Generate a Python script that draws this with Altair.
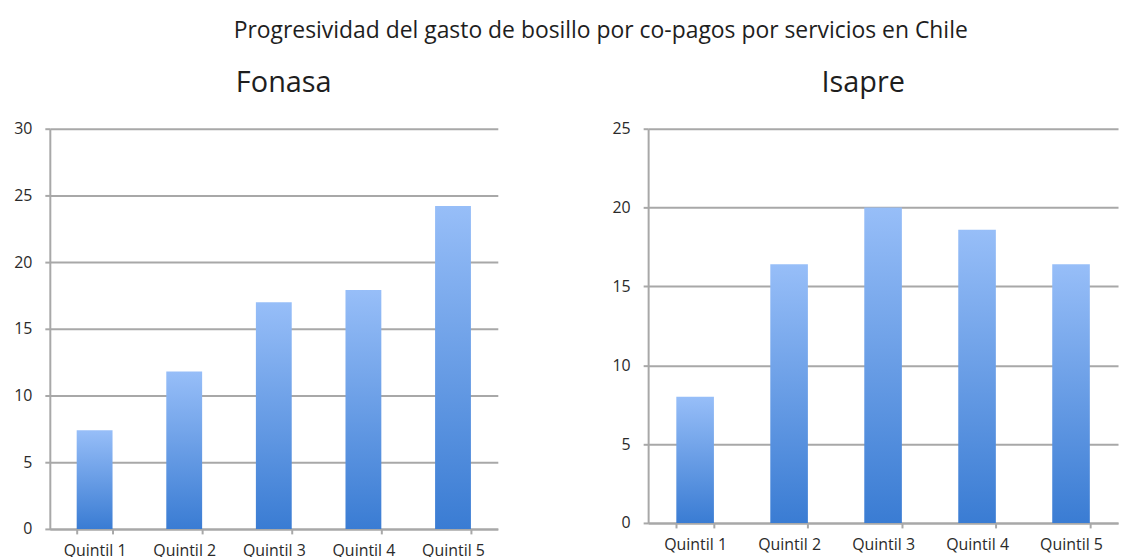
import altair as alt
import pandas as pd

quintiles = ["Quintil 1", "Quintil 2", "Quintil 3", "Quintil 4", "Quintil 5"]
fonasa = [7.4, 11.8, 17.0, 17.9, 24.2]
isapre = [8.0, 16.4, 20.0, 18.6, 16.4]

main_title = "Progresividad del gasto de bosillo por co-pagos por servicios en Chile"
FONT = "Open Sans"
GRID = "#A8A8A8"

grad = alt.Gradient(
    gradient="linear",
    stops=[alt.GradientStop(color="#3A7CD3", offset=0),
           alt.GradientStop(color="#97BEF8", offset=1)],
    x1=1, x2=1, y1=1, y2=0,
)


def panel(values, name, ymax, width, height, dx):
    df = pd.DataFrame({"q": quintiles, "v": values})
    return alt.Chart(df).mark_bar(color=grad).encode(
        x=alt.X("q:N", sort=quintiles,
                scale=alt.Scale(paddingInner=0.6, paddingOuter=0.3),
                axis=alt.Axis(title=None, labelAngle=0, tickBand="extent",
                              grid=False, tickSize=5, labelPadding=9)),
        y=alt.Y("v:Q", scale=alt.Scale(domain=[0, ymax], nice=False),
                axis=alt.Axis(title=None, values=list(range(0, ymax + 1, 5)),
                              grid=True, tickSize=5, labelPadding=13)),
    ).properties(
        width=width, height=height,
        title=alt.TitleParams(name, fontSize=29, font=FONT, fontWeight="normal",
                              color="#1E1E1E", anchor="middle", dx=dx, offset=23),
    )


left = panel(fonasa, "Fonasa", 30, 450, 402, 10)
right = panel(isapre, "Isapre", 25, 472, 396, -20)

chart = alt.hconcat(left, right, spacing=114).properties(
    title=alt.TitleParams(main_title, fontSize=23, font=FONT, fontWeight="normal",
                          color="#1E1E1E", anchor="middle", dx=35, offset=26),
    padding={"left": 5, "top": 11, "right": 5, "bottom": 5},
).configure_view(stroke=None).configure_axis(
    labelFont=FONT, labelFontSize=16, labelColor="#2A2A2A",
    domainColor=GRID, domainWidth=2, tickColor=GRID, tickWidth=2,
    gridColor=GRID, gridWidth=2,
)

chart.save("out.html", embed_options={"renderer": "svg", "actions": False})
